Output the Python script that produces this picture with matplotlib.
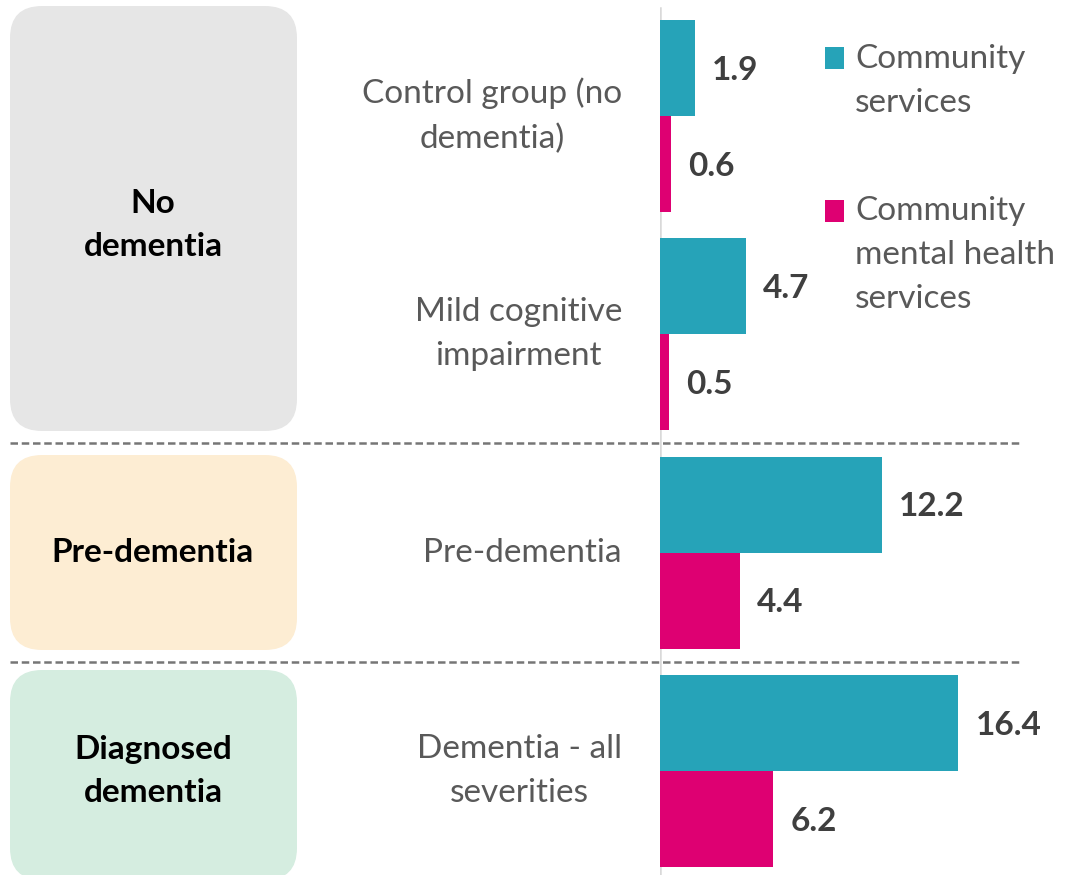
import matplotlib.pyplot as plt
from matplotlib.patches import FancyBboxPatch, Rectangle
import numpy as np

plt.rcParams['font.family'] = ['Lato', 'DejaVu Sans']

# data
categories = ['Control group (no\ndementia)', 'Mild cognitive\nimpairment', 'Pre-dementia', 'Dementia - all\nseverities']
community = [1.9, 4.7, 12.2, 16.4]
mental_health = [0.6, 0.5, 4.4, 6.2]
series_names = ['Community\nservices', 'Community\nmental health\nservices']
groups = ['No\ndementia', 'Pre-dementia', 'Diagnosed\ndementia']
group_span = [(0, 1), (2, 2), (3, 3)]   # first/last category index in each group

TEAL = '#26A3B8'
PINK = '#DE0072'
BOX_COLORS = ['#E6E6E6', '#FDEDD3', '#D5EDE0']
GREY_TXT = '#595959'
NUM_TXT = '#3F3F3F'
LS = 1.6

W, H = 1069, 875
fig = plt.figure(figsize=(W / 100, H / 100), dpi=100)

# background axes in pixel coordinates, for boxes, labels, legend
bg = fig.add_axes([0, 0, 1, 1])
bg.set_xlim(0, W)
bg.set_ylim(H, 0)
bg.axis('off')

# bar axes: zero line sits at x=660px
x0 = 660
ax = fig.add_axes([x0 / W, 0, (W - x0) / W, 1])
px_per_unit = 18.2
ax.set_xlim(0, (W - x0) / px_per_unit)
step = 218.3      # pixels between category centres
first = 116       # centre of first category (px from top)
ax.set_ylim((H - first) / step, -first / step)
ax.axis('off')
ax.patch.set_alpha(0)

y = np.arange(len(categories))
bh = 0.44
ax.barh(y - bh / 2, community, height=bh, color=TEAL)
ax.barh(y + bh / 2, mental_health, height=bh, color=PINK)
ax.axvline(0, ymin=0, ymax=(H - 8) / H, color='#D9D9D9', lw=1.8, zorder=0)

for i in range(len(categories)):
    ax.text(community[i] + 0.95, y[i] - bh / 2 + 0.01, f'{community[i]:.1f}', ha='left', va='center',
            fontsize=24, fontweight='bold', color=NUM_TXT)
    ax.text(mental_health[i] + 0.95, y[i] + bh / 2 + 0.01, f'{mental_health[i]:.1f}', ha='left', va='center',
            fontsize=24, fontweight='bold', color=NUM_TXT)

# category labels
for i, c in enumerate(categories):
    bg.text(622, first + i * step, c, ha='right', va='center', multialignment='center',
            fontsize=24, color=GREY_TXT, linespacing=LS)

# dashed separators between groups
for g in range(len(groups) - 1):
    sep = first + (group_span[g][1] + 0.5) * step
    bg.plot([10, 1020], [sep, sep], ls=(0, (3, 1.5)), color='#767676', lw=1.8)

# rounded group boxes
box_tops = [6, 455, 670]
box_bottoms = [431, 650, 880]
for g, name in enumerate(groups):
    bg.add_patch(FancyBboxPatch((10, box_tops[g]), 287, box_bottoms[g] - box_tops[g],
                                boxstyle='round,pad=0,rounding_size=32',
                                fc=BOX_COLORS[g], ec='none'))
    cy = first + (group_span[g][0] + group_span[g][1]) / 2 * step
    bg.text(153, cy, name, ha='center', va='center', multialignment='center',
            fontsize=24, fontweight='bold', color='black', linespacing=LS)

# legend
for k, (name, col) in enumerate(zip(series_names, [TEAL, PINK])):
    top = [47, 200][k]
    mid = [81, 255][k]
    bg.add_patch(Rectangle((825, top), 19, 22, fc=col, ec='none'))
    bg.text(855, mid, name, ha='left', va='center', fontsize=24, color=GREY_TXT, linespacing=LS)

fig.savefig('out.png', dpi=100)
